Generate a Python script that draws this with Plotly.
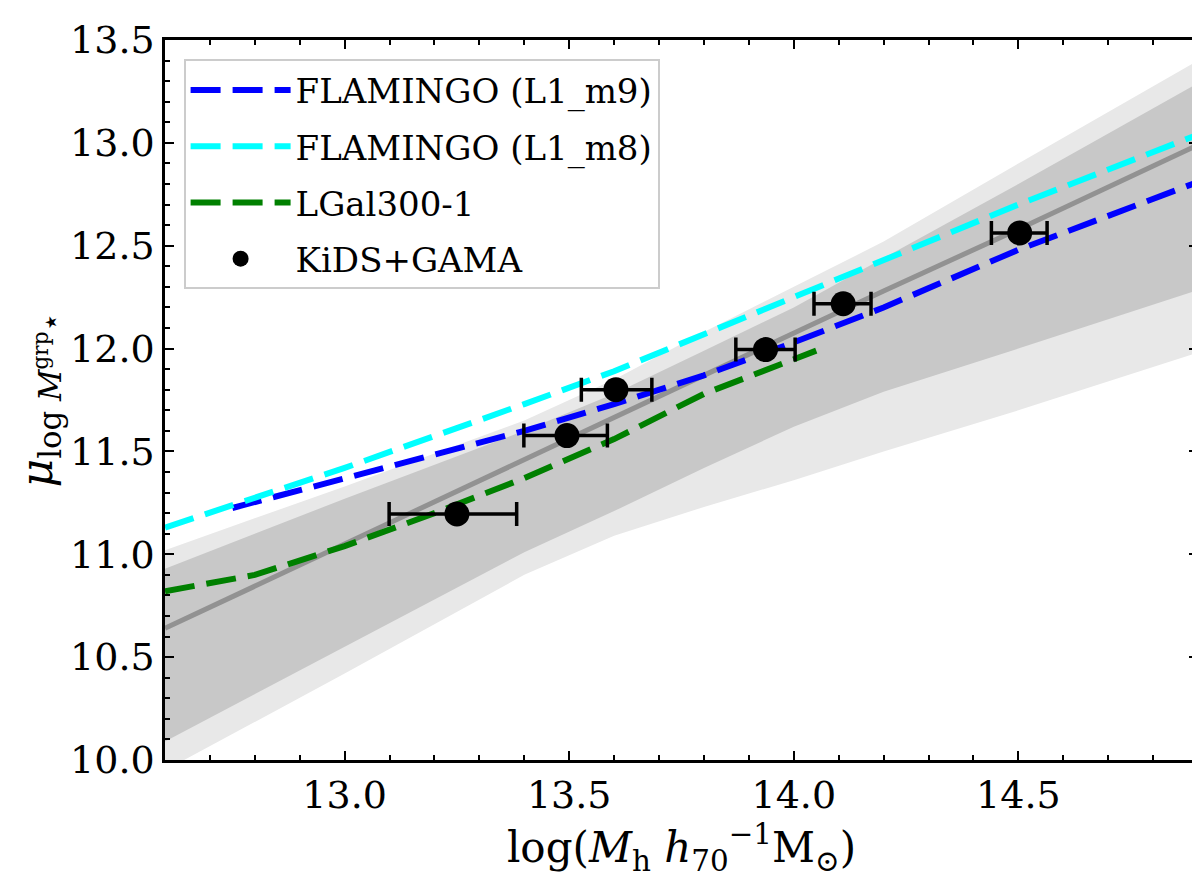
import plotly.graph_objects as go

x_grid = [12.6, 13.0, 13.4, 13.6, 13.8, 14.0, 14.2, 14.5, 14.9]
median = [10.64, 11.05, 11.46, 11.66, 11.87, 12.07, 12.28, 12.58, 12.99]
lo_1sig = [10.09, 10.55, 11.01, 11.21, 11.42, 11.62, 11.79, 12.00, 12.285]
hi_1sig = [10.93, 11.27, 11.60, 11.78, 11.99, 12.20, 12.44, 12.80, 13.29]
lo_2sig = [9.95, 10.42, 10.90, 11.09, 11.23, 11.36, 11.50, 11.70, 11.98]
hi_2sig = [11.02, 11.33, 11.65, 11.85, 12.08, 12.30, 12.52, 12.90, 13.40]

# FLAMINGO (L1_m9)
m9_x = [12.75, 13.0, 13.4, 13.6, 13.8, 14.0, 14.2, 14.5, 14.9]
m9_y = [11.225, 11.37, 11.60, 11.73, 11.87, 12.03, 12.20, 12.48, 12.81]
# FLAMINGO (L1_m8)
m8_x = [12.6, 13.0, 13.4, 13.6, 13.8, 14.0, 14.2, 14.5, 14.9]
m8_y = [11.13, 11.42, 11.73, 11.89, 12.07, 12.25, 12.43, 12.70, 13.04]
# LGal300-1
lgal_x = [12.6, 12.8, 13.0, 13.2, 13.4, 13.6, 13.8, 14.05]
lgal_y = [10.82, 10.90, 11.04, 11.20, 11.37, 11.56, 11.78, 11.99]

# KiDS+GAMA
obs_x = [13.25, 13.495, 13.604, 13.937, 14.11, 14.503]
obs_y = [11.196, 11.577, 11.80, 11.995, 12.218, 12.562]
obs_xerr_lo = [0.151, 0.096, 0.077, 0.066, 0.065, 0.063]
obs_xerr_hi = [0.133, 0.090, 0.080, 0.066, 0.062, 0.061]

x_ticks = [13.0, 13.5, 14.0, 14.5]
y_ticks = [10.0, 10.5, 11.0, 11.5, 12.0, 12.5, 13.0, 13.5]

FONT = "DejaVu Serif"

fig = go.Figure()

# 2 sigma band
fig.add_trace(go.Scatter(x=x_grid, y=lo_2sig, mode="lines", line=dict(width=0),
                         showlegend=False, hoverinfo="skip"))
fig.add_trace(go.Scatter(x=x_grid, y=hi_2sig, mode="lines", line=dict(width=0),
                         fill="tonexty", fillcolor="#e8e8e8",
                         showlegend=False, hoverinfo="skip"))
# 1 sigma band
fig.add_trace(go.Scatter(x=x_grid, y=lo_1sig, mode="lines", line=dict(width=0),
                         showlegend=False, hoverinfo="skip"))
fig.add_trace(go.Scatter(x=x_grid, y=hi_1sig, mode="lines", line=dict(width=0),
                         fill="tonexty", fillcolor="#c8c8c8",
                         showlegend=False, hoverinfo="skip"))
# median
fig.add_trace(go.Scatter(x=x_grid, y=median, mode="lines",
                         line=dict(color="#929292", width=5),
                         showlegend=False, hoverinfo="skip"))

dash = "30px,12px"
fig.add_trace(go.Scatter(x=m9_x, y=m9_y, mode="lines", name="FLAMINGO (L1_m9)",
                         line=dict(color="#0000ff", width=6, dash=dash), legendgroup="a"))
fig.add_trace(go.Scatter(x=m8_x, y=m8_y, mode="lines", name="FLAMINGO (L1_m8)",
                         line=dict(color="#00ffff", width=6, dash=dash), legendgroup="b"))
fig.add_trace(go.Scatter(x=lgal_x, y=lgal_y, mode="lines", name="LGal300-1",
                         line=dict(color="#008000", width=6, dash=dash), legendgroup="c"))
fig.add_trace(go.Scatter(
    x=obs_x, y=obs_y, mode="markers", name="KiDS+GAMA", legendgroup="d",
    marker=dict(color="black", size=25),
    error_x=dict(type="data", symmetric=False, array=obs_xerr_hi,
                 arrayminus=obs_xerr_lo, color="black", thickness=3.5, width=12)))

fig.update_xaxes(
    range=[12.6, 14.9], tickvals=x_ticks, tickformat=".1f",
    showgrid=False, zeroline=False, showline=True, linecolor="black", linewidth=2.5,
    mirror="ticks", ticks="inside", ticklen=9, tickwidth=2, tickcolor="black",
    tickfont=dict(family=FONT, size=38, color="black"),
    minor=dict(dtick=0.1, ticks="inside", ticklen=5, tickwidth=1.5, tickcolor="black"),
    title=dict(text="log(<i>M</i><sub>h</sub> <i>h</i><sub>70</sub><sup>\u22121</sup>M<sub>\u2299</sub>)",
               font=dict(family=FONT, size=42, color="black"), standoff=12))
fig.update_yaxes(
    range=[10.0, 13.5], tickvals=y_ticks, tickformat=".1f",
    showgrid=False, zeroline=False, showline=True, linecolor="black", linewidth=2.5,
    mirror="ticks", ticks="inside", ticklen=9, tickwidth=2, tickcolor="black",
    tickfont=dict(family=FONT, size=38, color="black"),
    minor=dict(dtick=0.1, ticks="inside", ticklen=5, tickwidth=1.5, tickcolor="black"),
    title=dict(text="<i>\u03bc</i><sub>log <i>M</i><sup>grp</sup>\u22c6</sub>",
               font=dict(family=FONT, size=44, color="black"), standoff=4))

fig.update_layout(
    template="none",
    width=1200, height=888,
    margin=dict(l=157, r=10, t=32, b=136),
    plot_bgcolor="white", paper_bgcolor="white",
    font=dict(family=FONT, color="black", size=36),
    legend=dict(x=0.018, y=0.973, xanchor="left", yanchor="top",
                bgcolor="rgba(255,255,255,0.85)", bordercolor="#cccccc", borderwidth=2,
                font=dict(family=FONT, size=34, color="black"),
                itemwidth=100, tracegroupgap=9, traceorder="grouped"),
)

fig.write_html("out.html")
